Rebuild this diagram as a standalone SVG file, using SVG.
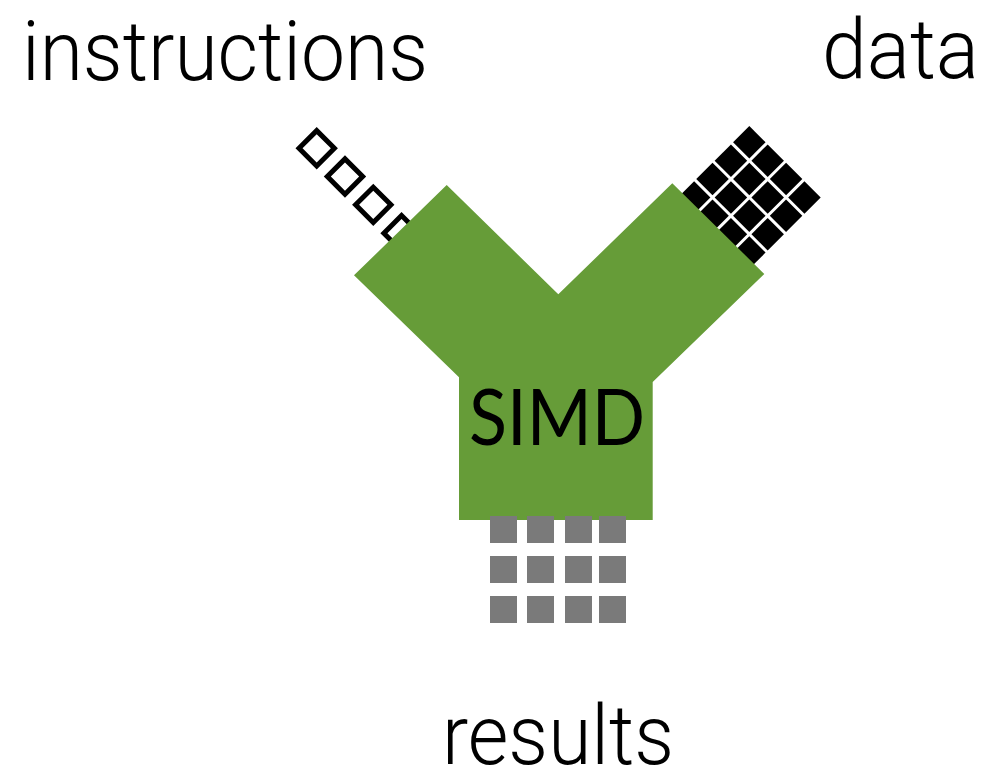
<svg xmlns="http://www.w3.org/2000/svg" width="1000" height="780" viewBox="0 0 1000 780">
  <style>
    .label { font-family: Roboto, "Liberation Sans", Arial, sans-serif; font-weight: 300; font-size: 84px; fill: #000; }
    .simd { font-family: Lato, "Open Sans", "Liberation Sans", sans-serif; font-size: 78px; fill: #000; }
    .instr { fill: none; stroke: #000; stroke-width: 5; }
    .dat { fill: #000; }
    .res { fill: #7a7a7a; }
  </style>
  <rect width="1000" height="780" fill="#fff"/>
  <g id="labels">
    <text class="label" x="22" y="80" textLength="406" lengthAdjust="spacingAndGlyphs">instructions</text>
    <text class="label" x="822" y="78" textLength="157" lengthAdjust="spacingAndGlyphs">data</text>
    <text class="label" x="442" y="764" textLength="232" lengthAdjust="spacingAndGlyphs">results</text>
  </g>
  <g id="instructions-stream" transform="translate(316.7,148.3) rotate(45)">
    <rect class="instr" x="-12.5" y="-12.5" width="25" height="25"/>
    <rect class="instr" x="27.5" y="-12.5" width="25" height="25"/>
    <rect class="instr" x="67.5" y="-12.5" width="25" height="25"/>
    <rect class="instr" x="107.5" y="-12.5" width="25" height="25"/>
  </g>
  <g id="data-stream" transform="translate(749.3,126) rotate(45)">
    <rect class="dat" x="0" y="0" width="23" height="23"/>
    <rect class="dat" x="26" y="0" width="23" height="23"/>
    <rect class="dat" x="52" y="0" width="23" height="23"/>
    <rect class="dat" x="78" y="0" width="23" height="23"/>
    <rect class="dat" x="0" y="26" width="23" height="23"/>
    <rect class="dat" x="26" y="26" width="23" height="23"/>
    <rect class="dat" x="52" y="26" width="23" height="23"/>
    <rect class="dat" x="78" y="26" width="23" height="23"/>
    <rect class="dat" x="0" y="52" width="23" height="23"/>
    <rect class="dat" x="26" y="52" width="23" height="23"/>
    <rect class="dat" x="52" y="52" width="23" height="23"/>
    <rect class="dat" x="78" y="52" width="23" height="23"/>
    <rect class="dat" x="0" y="78" width="23" height="23"/>
    <rect class="dat" x="26" y="78" width="23" height="23"/>
    <rect class="dat" x="52" y="78" width="23" height="23"/>
    <rect class="dat" x="78" y="78" width="23" height="23"/>
    <rect class="dat" x="0" y="104" width="23" height="23"/>
    <rect class="dat" x="26" y="104" width="23" height="23"/>
    <rect class="dat" x="52" y="104" width="23" height="23"/>
    <rect class="dat" x="78" y="104" width="23" height="23"/>
  </g>
  <g id="simd">
    <polygon fill="#669c38" points="446.7,185 558.3,294.3 672.3,183.3 764.3,274 652.7,382 652.7,520 459,520 459,377.3 354,275.3"/>
    <text class="simd" x="469" y="445" textLength="176" lengthAdjust="spacingAndGlyphs">SIMD</text>
  </g>
  <g id="results-grid">
    <rect class="res" x="490" y="516" width="27" height="27"/>
    <rect class="res" x="527" y="516" width="27" height="27"/>
    <rect class="res" x="565" y="516" width="27" height="27"/>
    <rect class="res" x="599" y="516" width="27" height="27"/>
    <rect class="res" x="490" y="556" width="27" height="27"/>
    <rect class="res" x="527" y="556" width="27" height="27"/>
    <rect class="res" x="565" y="556" width="27" height="27"/>
    <rect class="res" x="599" y="556" width="27" height="27"/>
    <rect class="res" x="490" y="596" width="27" height="27"/>
    <rect class="res" x="527" y="596" width="27" height="27"/>
    <rect class="res" x="565" y="596" width="27" height="27"/>
    <rect class="res" x="599" y="596" width="27" height="27"/>
  </g>
  <g id="connectors"></g>
</svg>
